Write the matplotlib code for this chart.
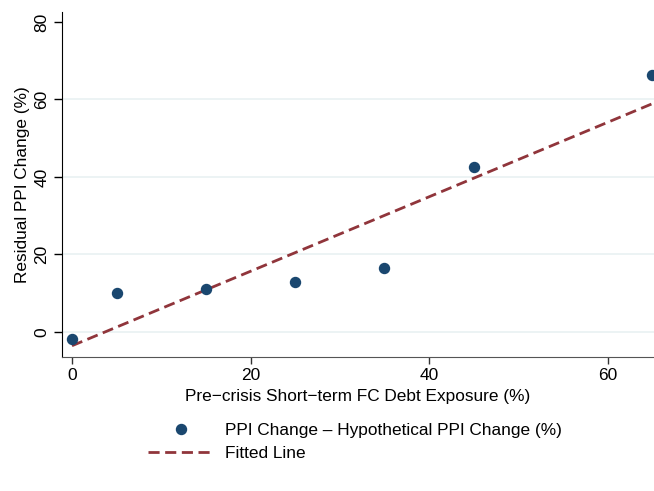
import matplotlib
matplotlib.use("Agg")
from matplotlib import pyplot as plt

exposure = [0, 5, 15, 25, 35, 45, 65]
resid_ppi = [-1.8, 10.1, 11.1, 12.9, 16.5, 42.6, 66.4]
fit_x = [0, 65]
fit_y = [-3.6, 58.9]
x_ticks = [0, 20, 40, 60]
y_ticks = [0, 20, 40, 60, 80]

plt.rcParams['font.family'] = ['Liberation Sans', 'DejaVu Sans']

fig = plt.figure(figsize=(6.54, 4.91), dpi=100)
ax = fig.add_axes([0.0948, 0.273, 0.9052, 0.7026])

for yv in y_ticks[:-1]:
    ax.axhline(yv, color='#eaf2f3', lw=1.3, zorder=0)

ax.plot(exposure, resid_ppi, 'o', color='#1a476f', ms=7.2, zorder=3,
        label='PPI Change \u2013 Hypothetical PPI Change (%)')
ax.plot(fit_x, fit_y, color='#90353b', lw=2.0, dashes=(4, 2), zorder=2,
        label='Fitted Line')

ax.set_xlim(-1.12, 65.2)
ax.set_ylim(-6.5, 82.6)
ax.set_xticks(x_ticks)
ax.set_yticks(y_ticks)
ax.tick_params(axis='y', labelrotation=90, labelsize=12.5, length=6, width=1, pad=3)
ax.tick_params(axis='x', labelsize=12.5, length=5, width=1, colors='#333333', labelcolor='black', pad=3)
for lab in ax.get_yticklabels():
    lab.set_va('center')
ax.spines['top'].set_visible(False)
ax.spines['right'].set_visible(False)
ax.spines['bottom'].set_color('#555555')
ax.set_xlabel('Pre\u2212crisis Short\u2212term FC Debt Exposure (%)', fontsize=12.4, labelpad=4)
ax.set_ylabel('Residual PPI Change (%)', fontsize=12.4, labelpad=3)

fig.legend(loc='center', bbox_to_anchor=(0.543, 0.1), frameon=False, fontsize=12.4,
           handlelength=3.8, handletextpad=0.7, labelspacing=0.45)

fig.savefig('out.png', dpi=100)
